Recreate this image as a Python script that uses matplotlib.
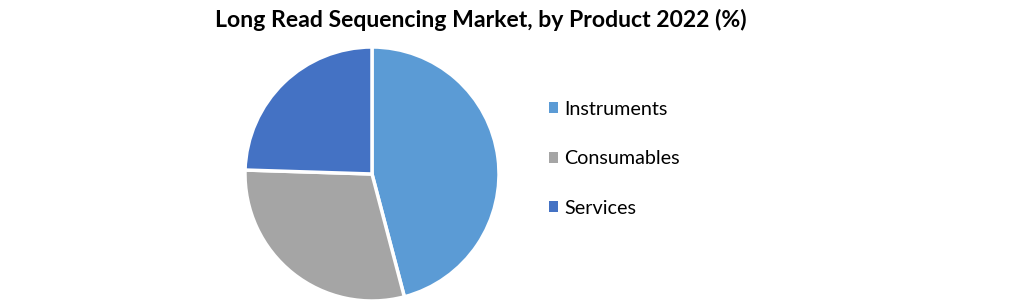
import matplotlib
matplotlib.use("Agg")
import matplotlib.pyplot as plt
from matplotlib.patches import Patch

categories = ["Instruments", "Consumables", "Services"]
shares = [45.9, 29.6, 24.5]
colors = ["#5B9BD5", "#A5A5A5", "#4472C4"]
title = "Long Read Sequencing Market, by Product 2022 (%)"

plt.rcParams['font.family'] = ['Lato', 'DejaVu Sans']

W, H = 1021, 304
fig = plt.figure(figsize=(W / 100, H / 100), dpi=100)
fig.patch.set_facecolor("white")

cx, cy, r = 372, 174, 127
ax = fig.add_axes([(cx - r) / W, 1 - (cy + r) / H, 2 * r / W, 2 * r / H])
ax.pie(shares, colors=colors, startangle=90, counterclock=False, radius=1,
       wedgeprops=dict(edgecolor="white", linewidth=2.5))
ax.set_xlim(-1, 1)
ax.set_ylim(-1, 1)
ax.set_aspect("equal")
ax.axis("off")

fig.text(481 / W, 1 - 20 / H, title, ha="center", va="center",
         fontsize=16.6, fontweight="bold", color="black")

handles = [Patch(facecolor=c, edgecolor="none") for c in colors]
leg = fig.legend(handles, categories, loc="upper left",
                 bbox_to_anchor=(541 / W, 1 - 93 / H), frameon=False,
                 fontsize=14.2, handlelength=0.48, handleheight=0.48,
                 handletextpad=0.3, labelspacing=1.65, borderaxespad=0)

fig.savefig("out.png", dpi=100, facecolor="white")
